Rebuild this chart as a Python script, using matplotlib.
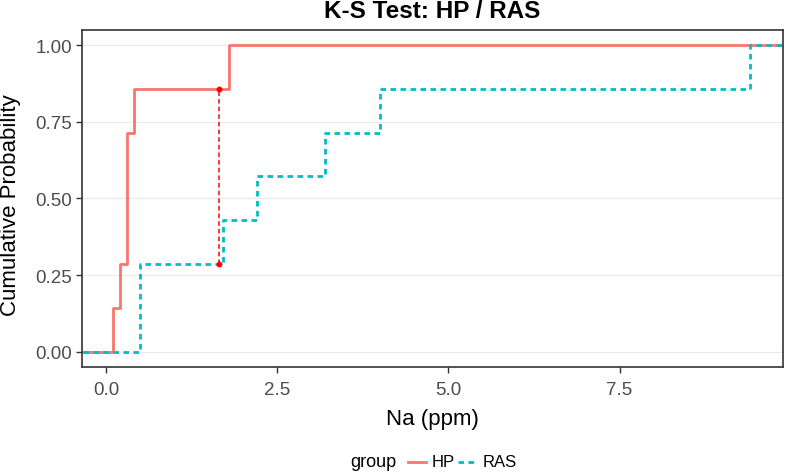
"""K-S test ECDF comparison: HP vs RAS sodium concentrations."""

import matplotlib

matplotlib.use("Agg")
import matplotlib.pyplot as plt  # noqa: E402
import numpy as np  # noqa: E402
from matplotlib.lines import Line2D  # noqa: E402

# --- data ---
hp_na = [0.1, 0.2, 0.3, 0.3, 0.3, 0.4, 1.8]
ras_na = [0.5, 0.5, 1.7, 2.2, 3.2, 4.0, 9.4]
ks_x = 1.65
ks_y_hp = 6 / 7
ks_y_ras = 2 / 7

HP_COL = "#F8766D"
RAS_COL = "#00BFC4"
LW = 2.0
RAS_DASH = (0, (2.0, 1.6))
XLIM = (-0.36, 9.88)
W, H = 787, 477

plt.rcParams["font.family"] = ["Liberation Sans", "DejaVu Sans"]


def ecdf_xy(vals, lo, hi):
    v = np.sort(np.asarray(vals, dtype=float))
    n = len(v)
    xs = np.concatenate([[lo], v, [hi]])
    ys = np.concatenate([[0.0], np.arange(1, n + 1) / n, [1.0]])
    return xs, ys


fig = plt.figure(figsize=(W / 100, H / 100), dpi=100)
ax = fig.add_axes([81.5 / W, 1 - 368 / H, 701 / W, 337.3 / H])

x, y = ecdf_xy(hp_na, XLIM[0] - 1, XLIM[1] + 1)
ax.step(x, y, where="post", color=HP_COL, lw=LW)
x, y = ecdf_xy(ras_na, XLIM[0] - 1, XLIM[1] + 1)
ax.step(x, y, where="post", color=RAS_COL, lw=LW, linestyle=RAS_DASH)

# KS statistic segment
ax.plot([ks_x, ks_x], [ks_y_ras, ks_y_hp], color="red", lw=1.1, linestyle=(0, (3, 2)))
ax.plot([ks_x, ks_x], [ks_y_ras, ks_y_hp], "o", color="red", ms=3.2)

ax.set_xlim(*XLIM)
ax.set_ylim(-0.05, 1.05)
ax.set_xticks([0.0, 2.5, 5.0, 7.5])
ax.set_xticklabels(["0.0", "2.5", "5.0", "7.5"])
ax.set_yticks([0.0, 0.25, 0.5, 0.75, 1.0])
ax.set_yticklabels(["0.00", "0.25", "0.50", "0.75", "1.00"])
ax.yaxis.grid(True, color="#EBEBEB", lw=0.8)
ax.set_axisbelow(True)
for s in ax.spines.values():
    s.set_color("#333333")
    s.set_linewidth(1.2)
ax.tick_params(axis="both", colors="#333333", labelcolor="#4D4D4D",
               labelsize=13.5, length=4, width=1)
ax.tick_params(axis="x", pad=6)
ax.tick_params(axis="y", pad=3)

fig.text(432 / W, 1 - 420 / H, "Na (ppm)", fontsize=16, ha="center", va="center")
fig.text(11 / W, 1 - 205 / H, "Cumulative Probability", fontsize=16,
         rotation=90, ha="center", va="center")
fig.text(432 / W, 1 - 12 / H, "K-S Test: HP / RAS", fontsize=17.5,
         fontweight="bold", ha="center", va="center")

# bottom legend, ggplot style, laid out by hand
ly = 1 - 463 / H
fig.text(350 / W, ly, "group", fontsize=13, ha="left", va="center")
fig.add_artist(Line2D([408 / W, 426 / W], [ly, ly], color=HP_COL, lw=LW))
fig.text(432 / W, ly, "HP", fontsize=12, ha="left", va="center")
fig.add_artist(Line2D([458 / W, 474 / W], [ly, ly], color=RAS_COL, lw=LW,
                      linestyle=RAS_DASH))
fig.text(483 / W, ly, "RAS", fontsize=12, ha="left", va="center")

fig.savefig("out.png", dpi=100)
plt.close(fig)
